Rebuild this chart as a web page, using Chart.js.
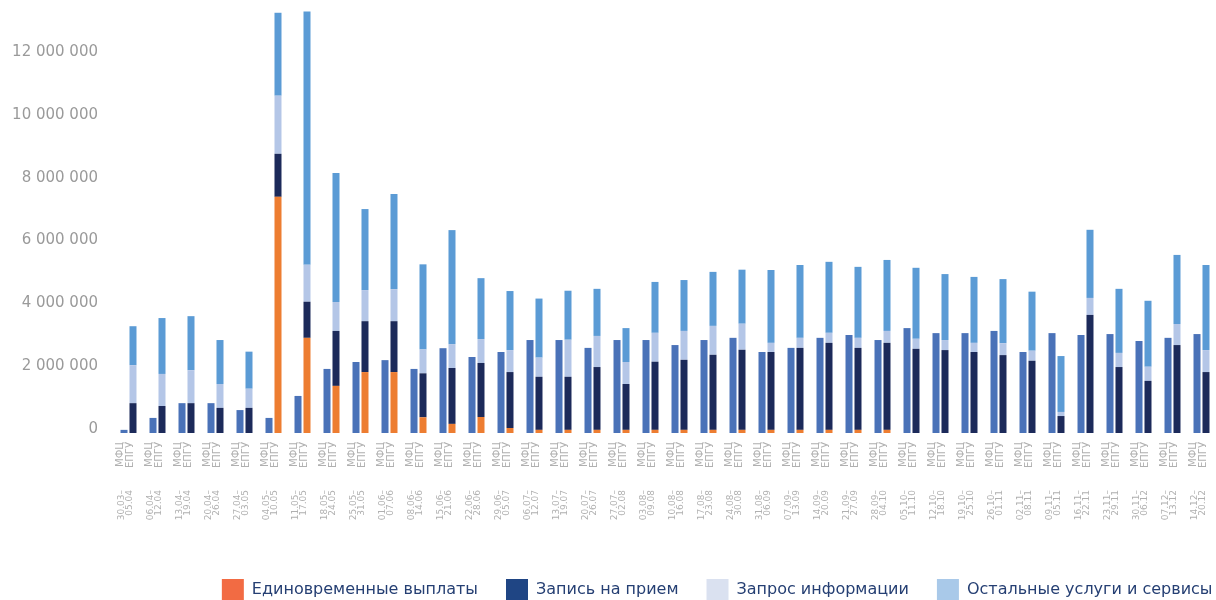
<!DOCTYPE html>
<html lang="ru">
<head>
<meta charset="utf-8">
<title>Обращения по неделям: МФЦ и ЕПГУ</title>
<script src="https://cdn.jsdelivr.net/npm/chart.js@4.4.1/dist/chart.umd.min.js"></script>
<style>
    html, body { margin: 0; padding: 0; background: #ffffff; }
    #wrap { position: relative; width: 1216px; height: 600px; }
</style>
</head>
<body>
<div id="wrap"><canvas id="weeklyChart"></canvas></div>
<script>
// Weeks (the 09.11–05.11 label is kept as in the source)
const weeks = [
    '30.03–05.04', '06.04–12.04', '13.04–19.04', '20.04–26.04', '27.04–03.05',
    '04.05–10.05', '11.05–17.05', '18.05–24.05', '25.05–31.05', '01.06–07.06',
    '08.06–14.06', '15.06–21.06', '22.06–28.06', '29.06–05.07', '06.07–12.07',
    '13.07–19.07', '20.07–26.07', '27.07–02.08', '03.08–09.08', '10.08–16.08',
    '17.08–23.08', '24.08–30.08', '31.08–06.09', '07.09–13.09', '14.09–20.09',
    '21.09–27.09', '28.09–04.10', '05.10–11.10', '12.10–18.10', '19.10–25.10',
    '26.10–01.11', '02.11–08.11', '09.11–05.11', '16.11–22.11', '23.11–29.11',
    '30.11–06.12', '07.12–13.12', '14.12–20.12'
];

const channels = ['МФЦ', 'ЕПГУ'];

const seriesNames = ['Единовременные выплаты', 'Запись на прием', 'Запрос информации', 'Остальные услуги и сервисы'];

// МФЦ - one bar per week
const mfcTotal = [
    100000, 480000, 950000, 950000, 730000, 480000, 1180000, 2040000, 2260000, 2320000,
    2040000, 2700000, 2420000, 2580000, 2960000, 2960000, 2710000, 2960000, 2960000, 2800000,
    2960000, 3030000, 2580000, 2710000, 3030000, 3120000, 2960000, 3340000, 3180000, 3180000,
    3250000, 2580000, 3180000, 3120000, 3150000, 2930000, 3030000, 3150000
];

// ЕПГУ - stacked by service type
const epguPayments = [
    0, 0, 0, 0, 0, 7520000, 3030000, 1500000, 1940000, 1940000,
    500000, 290000, 510000, 160000, 100000, 100000, 100000, 100000, 100000, 100000,
    100000, 100000, 100000, 100000, 100000, 100000, 100000, 0, 0, 0,
    0, 0, 0, 0, 0, 0, 0, 0
];
const epguAppointments = [
    950000, 860000, 950000, 800000, 800000, 1370000, 1150000, 1750000, 1620000, 1620000,
    1400000, 1780000, 1720000, 1780000, 1690000, 1690000, 2000000, 1460000, 2170000, 2230000,
    2390000, 2550000, 2480000, 2610000, 2770000, 2610000, 2770000, 2680000, 2640000, 2580000,
    2480000, 2300000, 540000, 3760000, 2100000, 1660000, 2800000, 1940000
];
const epguInfo = [
    1210000, 1020000, 1050000, 760000, 610000, 1850000, 1180000, 920000, 990000, 1020000,
    760000, 760000, 760000, 700000, 610000, 1180000, 990000, 700000, 920000, 920000,
    920000, 830000, 290000, 320000, 320000, 320000, 380000, 320000, 320000, 290000,
    380000, 320000, 130000, 540000, 450000, 450000, 670000, 700000
];
const epguOther = [
    1240000, 1780000, 1720000, 1400000, 1180000, 2640000, 8060000, 4110000, 2580000, 3030000,
    2710000, 3630000, 1940000, 1880000, 1880000, 1560000, 1500000, 1080000, 1620000, 1620000,
    1720000, 1720000, 2320000, 2320000, 2260000, 2260000, 2260000, 2260000, 2100000, 2100000,
    2040000, 1880000, 1780000, 2170000, 2040000, 2100000, 2200000, 2710000
];

const yTicks = [0, 2000000, 4000000, 6000000, 8000000, 10000000, 12000000];

// bar colours and the (lighter) legend swatches used in the source
const barColors = ['#ed7d31', '#1c2a5a', '#b4c6e7', '#5b9bd5'];
const legendColors = ['#f26b43', '#1f4584', '#dae1f0', '#a9c9e9'];

function formatNumber(v) {
    return String(v).replace(/\B(?=(\d{3})+(?!\d))/g, ' ');
}

// legend in the source sits against the right and bottom edges
const legendNudge = {
    id: 'legendNudge',
    afterLayout(chart) {
        const lg = chart.legend;
        lg.left += 24.5;
        lg.right += 24.5;
        lg.top += 11;
        lg.bottom += 11;
    }
};

// rotated labels should not shrink the plot area sideways
function fixXAxis(height) {
    return (scale) => {
        scale.height = height;
        scale.paddingLeft = 0;
        scale.paddingRight = 0;
    };
}

Chart.defaults.font.family = 'DejaVu Sans';

const ctx = document.getElementById('weeklyChart').getContext('2d');
const weeklyChart = new Chart(ctx, {
    type: 'bar',
    data: {
        labels: weeks,
        datasets: [
            { label: 'МФЦ', data: mfcTotal, stack: 'mfc', backgroundColor: '#4a72b8' },
            { label: seriesNames[0], data: epguPayments, stack: 'epgu', backgroundColor: barColors[0] },
            { label: seriesNames[1], data: epguAppointments, stack: 'epgu', backgroundColor: barColors[1] },
            { label: seriesNames[2], data: epguInfo, stack: 'epgu', backgroundColor: barColors[2] },
            { label: seriesNames[3], data: epguOther, stack: 'epgu', backgroundColor: barColors[3] }
        ]
    },
    options: {
        responsive: true,
        maintainAspectRatio: false,
        animation: false,
        layout: { padding: { top: 9, right: 0, bottom: 0, left: 0 } },
        datasets: {
            bar: { categoryPercentage: 0.62, barPercentage: 0.78, borderWidth: 0 }
        },
        scales: {
            x: {
                type: 'category',
                stacked: true,
                offset: true,
                weight: 0,
                grid: { display: false, drawTicks: false },
                border: { display: false },
                ticks: {
                    autoSkip: false,
                    minRotation: 90,
                    maxRotation: 90,
                    padding: 9,
                    labelOffset: -7.7,
                    color: '#b0b0b0',
                    font: { size: 10, lineHeight: '9.7px' },
                    callback: () => channels
                },
                afterFit: fixXAxis(34)
            },
            x2: {
                type: 'category',
                position: 'bottom',
                offset: true,
                weight: 1,
                grid: { display: false, drawTicks: false },
                border: { display: false },
                ticks: {
                    autoSkip: false,
                    minRotation: 90,
                    maxRotation: 90,
                    padding: 23,
                    labelOffset: -7,
                    color: '#b0b0b0',
                    font: { size: 9, lineHeight: '8.3px' },
                    callback: function(value) {
                        const s = this.getLabelForValue(value);
                        const k = s.indexOf('–') + 1;
                        return [s.slice(0, k), s.slice(k)];
                    }
                },
                afterFit: fixXAxis(73)
            },
            y: {
                stacked: true,
                min: 0,
                max: 13500000,
                grid: { display: false, drawTicks: false },
                border: { display: false },
                ticks: {
                    padding: 16,
                    labelOffset: -4,
                    color: '#9a9a9a',
                    font: { size: 15 },
                    callback: (value) => formatNumber(value)
                },
                afterBuildTicks: (scale) => { scale.ticks = yTicks.map(v => ({ value: v })); },
                afterFit: (scale) => {
                    scale.width = 114;
                    // the tick padding should not push the plot area down
                    scale.paddingTop = 0;
                    scale.paddingBottom = 0;
                }
            }
        },
        plugins: {
            tooltip: { enabled: false },
            legend: {
                position: 'bottom',
                align: 'end',
                labels: {
                    boxWidth: 22,
                    boxHeight: 22,
                    padding: 28,
                    color: '#253f73',
                    font: { size: 16 },
                    filter: (item) => item.datasetIndex > 0,
                    generateLabels: function(chart) {
                        return Chart.defaults.plugins.legend.labels.generateLabels(chart).map(item => {
                            if (item.datasetIndex > 0) {
                                item.fillStyle = legendColors[item.datasetIndex - 1];
                                item.strokeStyle = item.fillStyle;
                                item.lineWidth = 0;
                            }
                            return item;
                        });
                    }
                }
            }
        }
    },
    plugins: [legendNudge]
});
</script>
</body>
</html>
